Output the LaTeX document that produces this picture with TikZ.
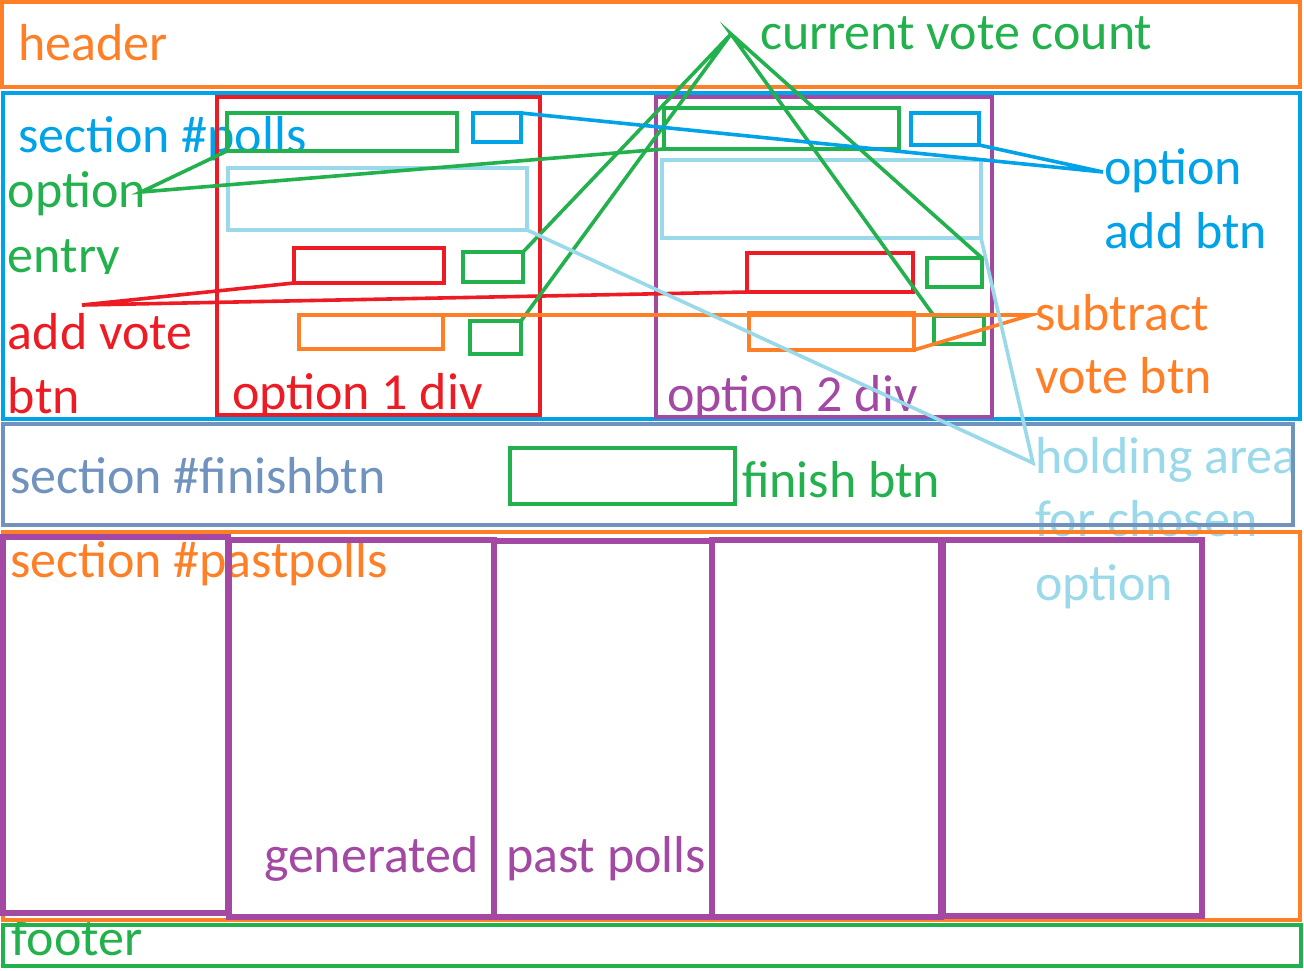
\documentclass[tikz,border=0pt]{standalone}
\usepackage{fontspec}
\setmainfont{Carlito}
\definecolor{corange}{HTML}{FF7F27}
\definecolor{cblue}{HTML}{00A2E8}
\definecolor{cred}{HTML}{ED1C24}
\definecolor{cgreen}{HTML}{22B14C}
\definecolor{cpurple}{HTML}{A349A4}
\definecolor{clblue}{HTML}{99D9EA}
\definecolor{csteel}{HTML}{7092BE}
\begin{document}
\begin{tikzpicture}[x=1pt,y=-1pt,
  bx/.style={draw, line width=4.5pt, inner sep=0pt, outer sep=0pt, anchor=north west},
  pbx/.style={bx, draw=cpurple, line width=5.5pt},
  txt/.style={inner sep=0pt, outer sep=0pt, anchor=base west, font=\fontsize{52}{62}\selectfont},
  conn/.style={line width=3.6pt}]
\useasboundingbox[fill=white] (0,0) rectangle (1304,970);
% ---- texts ----
\node[txt, text=corange] (theader) at (18,60) {header};
\node[txt, text=cblue] (tpolls) at (18,152) {section \#polls};
\node[txt, text=cgreen] (toption) at (8,207) {option};
\begin{scope}
\clip (0,230) rectangle (200,273);
\node[txt, text=cgreen] (tentry) at (8,272) {entry};
\end{scope}
\node[txt, text=cred] (taddvote) at (8,349) {add vote};
\node[txt, text=cred] (tbtn) at (8,413) {btn};
\node[txt, text=cred] (topt1) at (232,409) {option 1 div};
\node[txt, text=cpurple] (topt2) at (667,411) {option 2 div};
\node[txt, text=cgreen] (tcount) at (760,49) {current vote count};
\node[txt, text=cblue] (toptadd) at (1104,184) {option};
\node[txt, text=cblue] (taddbtn) at (1104,248) {add btn};
\node[txt, text=corange] (tsub) at (1035,330) {subtract};
\node[txt, text=corange] (tvotebtn) at (1035,393) {vote btn};
\begin{scope}
\clip (1000,430) rectangle (1291,490);
\node[txt, text=clblue] (thold) at (1035,473) {holding area};
\end{scope}
\begin{scope}
\clip (1000,495) rectangle (1304,537);
\node[txt, text=clblue] (tchosen) at (1035,536) {for chosen};
\end{scope}
\node[txt, text=clblue] (tchopt) at (1035,600) {option};
\node[txt, text=csteel] (tfinsec) at (10,493) {section \#finishbtn};
\node[txt, text=cgreen] (tfinbtn) at (742,497) {finish btn};
\node[txt, text=corange] (tpast) at (10,577) {section \#pastpolls};
\node[txt, text=cpurple] (tgen) at (264,872) {generated};
\node[txt, text=cpurple] (tpastp) at (506,872) {past polls};
\node[txt, text=cgreen] (tfooter) at (12,955) {footer};
% ---- sections ----
\node[bx, draw=corange, minimum width=1298pt, minimum height=85pt] (header) at (2,2) {};
\node[bx, draw=cblue, minimum width=1297pt, minimum height=326pt] (polls) at (3,93) {};
\node[bx, draw=csteel, minimum width=1290pt, minimum height=101pt] (finsec) at (3,424) {};
\node[bx, draw=corange, minimum width=1297pt, minimum height=388pt] (past) at (3,532) {};
\node[bx, draw=cgreen, minimum width=1298pt, minimum height=41pt] (footer) at (3,925) {};
% ---- option 1 ----
\node[bx, draw=cred, minimum width=323pt, minimum height=318pt] (o1) at (217,97) {};
\node[bx, draw=cgreen, minimum width=230pt, minimum height=38pt] (o1entry) at (227,113) {};
\node[bx, draw=cblue, minimum width=48pt, minimum height=29pt] (o1add) at (473,113) {};
\node[bx, draw=clblue, minimum width=299pt, minimum height=62pt] (o1hold) at (228,168) {};
\node[bx, draw=cred, minimum width=150pt, minimum height=35pt] (o1vote) at (294,248) {};
\node[bx, draw=cgreen, minimum width=60pt, minimum height=30pt] (o1c1) at (463,252) {};
\node[bx, draw=corange, minimum width=144pt, minimum height=34pt] (o1sub) at (299,315) {};
\node[bx, draw=cgreen, minimum width=51pt, minimum height=33pt] (o1c2) at (470,321) {};
% ---- option 2 ----
\node[bx, draw=cpurple, minimum width=336pt, minimum height=320pt] (o2) at (656,97) {};
\node[bx, draw=cgreen, minimum width=235pt, minimum height=41pt] (o2entry) at (664,108) {};
\node[bx, draw=cblue, minimum width=68pt, minimum height=32pt] (o2add) at (911,113) {};
\node[bx, draw=clblue, minimum width=319pt, minimum height=78pt] (o2hold) at (662,160) {};
\node[bx, draw=cred, minimum width=166pt, minimum height=39pt] (o2vote) at (747,253) {};
\node[bx, draw=cgreen, minimum width=55pt, minimum height=29pt] (o2c1) at (927,258) {};
\node[bx, draw=corange, minimum width=165pt, minimum height=37pt] (o2sub) at (749,313) {};
\node[bx, draw=cgreen, minimum width=50pt, minimum height=28pt] (o2c2) at (934,316) {};
% ---- finish ----
\node[bx, draw=cgreen, minimum width=225pt, minimum height=56pt] (finbtn) at (510,448) {};
% ---- past polls ----
\node[pbx, minimum width=225pt, minimum height=376pt] (p1) at (3,537) {};
\node[pbx, minimum width=265pt, minimum height=377pt] (p2) at (229,540) {};
\node[pbx, minimum width=218pt, minimum height=376pt] (p3) at (494,541) {};
\node[pbx, minimum width=229pt, minimum height=377pt] (p4) at (712,540) {};
\node[pbx, minimum width=259pt, minimum height=376pt] (p5) at (943,540) {};
% ---- connector apexes ----
\coordinate (aopt) at (141,192);
\coordinate (avote) at (82,305);
\coordinate (acount) at (731,34);
\coordinate (aadd) at (1103,172);
\coordinate (asub) at (1031,315);
\coordinate (ahold) at (1033,463);
% ---- connectors ----
\draw[conn, cgreen] (o1entry.south west) -- (aopt) -- (o2entry.south west);
\draw[conn, cred] (o1vote.south west) -- (avote) -- (o2vote.south west);
\draw[conn, cgreen] (o1c1.north east) -- (acount) -- (o1c2.north east);
\draw[conn, cgreen] (o2c1.north east) -- (acount) -- (o2c2.north west);
\draw[conn, cblue] (o1add.north east) -- (aadd) -- (o2add.south east);
\draw[conn, corange] (o1sub.north east) -- (asub) -- (o2sub.south east);
\draw[conn, clblue] (o1hold.south east) -- (ahold) -- (o2hold.south east);
\end{tikzpicture}
\end{document}
